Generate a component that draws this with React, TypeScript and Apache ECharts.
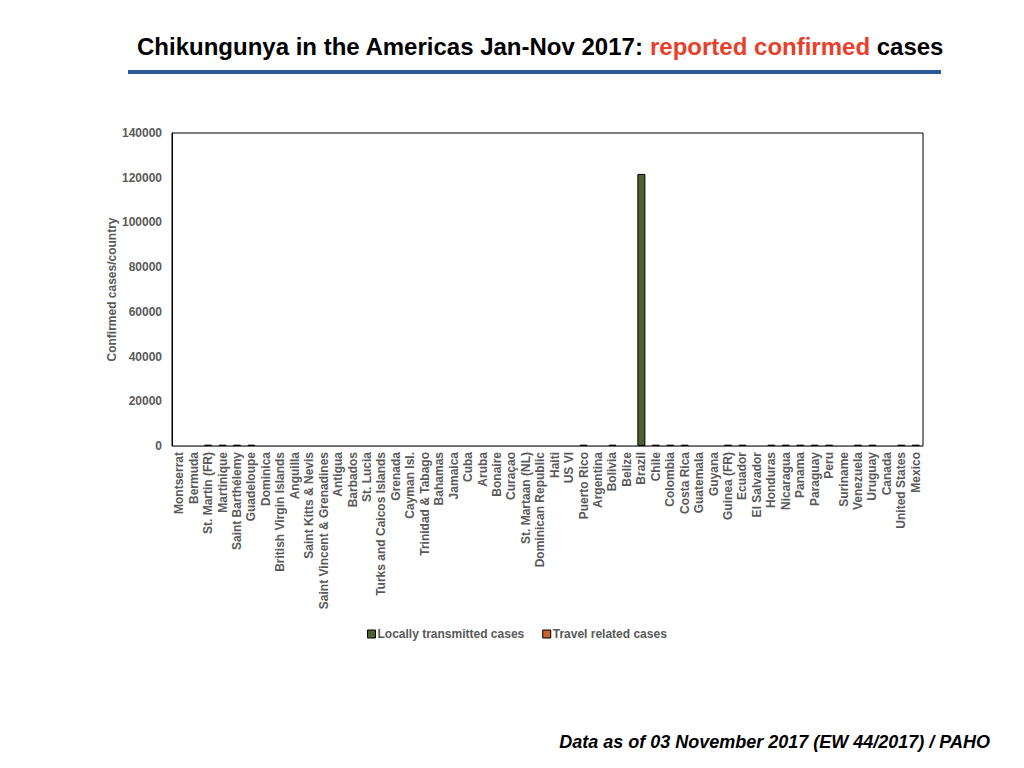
import React, { useEffect, useRef } from "react";
import * as echarts from "echarts";

const categories = [
  "Montserrat", "Bermuda", "St. Martin (FR)", "Martinique", "Saint Barthélemy", "Guadeloupe",
  "Dominica", "British Virgin Islands", "Anguilla", "Saint Kitts & Nevis",
  "Saint Vincent & Grenadines", "Antigua", "Barbados", "St. Lucia", "Turks and Caicos Islands",
  "Grenada", "Cayman Isl.", "Trinidad & Tabago", "Bahamas", "Jamaica", "Cuba", "Aruba",
  "Bonaire", "Curaçao", "St. Martaan (NL)", "Dominican Republic", "Haiti", "US VI",
  "Puerto Rico", "Argentina", "Bolivia", "Belize", "Brazil", "Chile", "Colombia",
  "Costa Rica", "Guatemala", "Guyana", "Guinea (FR)", "Ecuador", "El Salvador", "Honduras",
  "Nicaragua", "Panama", "Paraguay", "Peru", "Suriname", "Venezuela", "Uruguay", "Canada",
  "United States", "Mexico",
];

const localCases = [
  0, 0, 600, 600, 600, 600,
  0, 0, 0, 0,
  0, 0, 0, 0, 0,
  0, 0, 0, 0, 0, 0, 0,
  0, 0, 0, 0, 0, 0,
  600, 0, 600, 0, 121700, 0, 600,
  600, 0, 0, 600, 600, 0, 600,
  600, 600, 600, 600, 0, 600, 600, 0,
  0, 600,
];

const travelCases = [
  0, 0, 0, 0, 0, 0,
  0, 0, 0, 0,
  0, 0, 0, 0, 0,
  0, 0, 0, 0, 0, 0, 0,
  0, 0, 0, 0, 0, 0,
  0, 0, 0, 0, 0, 600, 0,
  0, 0, 0, 0, 0, 0, 0,
  0, 0, 0, 0, 0, 0, 0, 0,
  600, 0,
];

const yTicks = [0, 20000, 40000, 60000, 80000, 100000, 120000, 140000];

const FONT = "Liberation Sans, Arial, Helvetica, sans-serif";
const LABEL_GRAY = "#595959";

const toBars = (arr: number[]) => arr.map((v) => (v > 0 ? v : null));

export default function App() {
  const ref = useRef<HTMLDivElement>(null);
  useEffect(() => {
    if (!ref.current) return;
    const chart = echarts.init(ref.current, null, { renderer: "svg" });
    chart.setOption({
      animation: false,
      backgroundColor: "#ffffff",
      textStyle: { fontFamily: FONT },
      title: {
        text: "{b|Chikungunya in the Americas Jan-Nov 2017: }{r|reported confirmed}{b| cases}",
        left: 535,
        top: 29,
        textAlign: "center",
        textStyle: {
          rich: {
            b: { fontFamily: FONT, fontSize: 24, fontWeight: "bold", color: "#000000" },
            r: { fontFamily: FONT, fontSize: 24, fontWeight: "bold", color: "#e8402a" },
          },
        },
      },
      graphic: [
        {
          type: "rect",
          shape: { x: 128, y: 70, width: 813, height: 4 },
          style: { fill: "#2d5a9a" },
        },
        {
          type: "rect",
          shape: { x: 172, y: 133, width: 751, height: 313 },
          style: { fill: "none", stroke: "#000000", lineWidth: 1 },
          z: 10,
        },
        {
          type: "text",
          right: 34,
          top: 733,
          style: {
            text: "Data as of 03 November 2017 (EW 44/2017) / PAHO",
            font: "italic bold 18px " + FONT,
            fill: "#000000",
          },
        },
      ],
      legend: {
        top: 623,
        left: 362,
        itemWidth: 8,
        itemHeight: 8,
        itemGap: 18,
        icon: "rect",
        textStyle: { fontFamily: FONT, fontSize: 12, fontWeight: "bold", color: LABEL_GRAY, padding: [0, 0, 0, -3] },
        data: [
          { name: "Locally transmitted cases", itemStyle: { borderColor: "#000", borderWidth: 1 } },
          { name: "Travel related cases", itemStyle: { borderColor: "#000", borderWidth: 1 } },
        ],
      },
      grid: { left: 172, top: 133, right: 101, bottom: 322, containLabel: false },
      xAxis: {
        type: "category",
        data: categories,
        axisLine: { lineStyle: { color: "#d0d0d0", width: 1 } },
        axisTick: { show: false },
        axisLabel: {
          rotate: 90,
          interval: 0,
          fontFamily: FONT,
          fontSize: 12,
          fontWeight: "bold",
          color: LABEL_GRAY,
          margin: 6,
        },
      },
      yAxis: {
        type: "value",
        min: 0,
        max: yTicks[yTicks.length - 1],
        interval: yTicks[1] - yTicks[0],
        name: "Confirmed cases/country",
        nameLocation: "middle",
        nameGap: 54,
        nameMoveOverlap: false,
        nameTextStyle: { fontFamily: FONT, fontSize: 12, fontWeight: "bold", color: LABEL_GRAY },
        axisLine: { show: true, lineStyle: { color: "#000000" } },
        axisTick: { show: false },
        splitLine: { show: false },
        axisLabel: {
          fontFamily: FONT,
          fontSize: 12,
          fontWeight: "bold",
          color: LABEL_GRAY,
          margin: 10,
          formatter: (v: number) => String(v),
        },
      },
      series: [
        {
          name: "Locally transmitted cases",
          type: "bar",
          data: toBars(localCases),
          barWidth: 8,
          barGap: "-100%",
          itemStyle: { color: "#4b6130", borderColor: "#000000", borderWidth: 1 },
        },
        {
          name: "Travel related cases",
          type: "bar",
          data: toBars(travelCases),
          barWidth: 8,
          itemStyle: { color: "#c5652e", borderColor: "#000000", borderWidth: 1 },
        },
      ],
    });
    return () => chart.dispose();
  }, []);
  return (
    <div
      ref={ref}
      style={{ position: "fixed", left: 0, top: 0, width: 1024, height: 768 }}
    />
  );
}
